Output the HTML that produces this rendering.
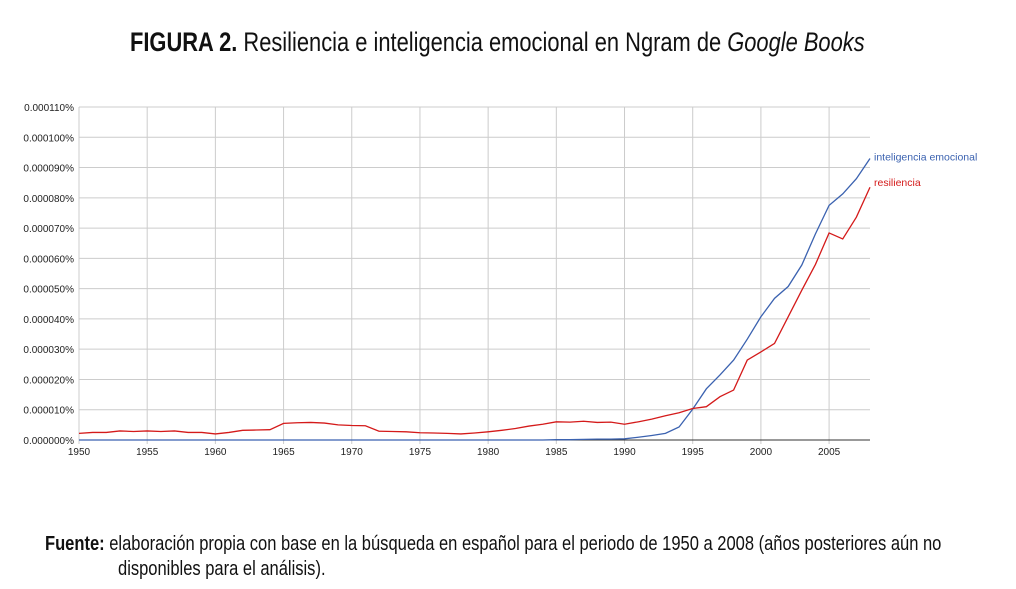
<!DOCTYPE html>
<html><head><meta charset="utf-8"><style>
body{margin:0;background:#fff;width:1016px;height:589px;overflow:hidden;position:relative;font-family:"Liberation Sans",sans-serif}
.t{position:absolute;white-space:nowrap}
#title{left:130px;top:27px;font-size:27px;color:#111;transform:scaleX(0.81);transform-origin:left top}
.foot{font-size:20px;color:#111;transform:scaleX(0.826);transform-origin:left top}
</style></head><body>
<div id="title" class="t"><b>FIGURA 2.</b> Resiliencia e inteligencia emocional en Ngram de <i>Google Books</i></div>
<svg id="chart" width="1016" height="589" style="position:absolute;left:0;top:0"></svg>
<div class="t foot" style="left:45px;top:533px"><b>Fuente:</b> elaboración propia con base en la búsqueda en español para el periodo de 1950 a 2008 (años posteriores aún no</div>
<div class="t foot" style="left:118px;top:558px">disponibles para el análisis).</div>
<script>
const years=[];for(let y=1950;y<=2008;y++)years.push(y);
const resiliencia=[2.2,2.5,2.5,3.0,2.8,3.0,2.8,3.0,2.5,2.5,2.0,2.5,3.2,3.3,3.4,5.5,5.7,5.8,5.6,5.0,4.8,4.7,2.9,2.8,2.7,2.4,2.3,2.2,2.0,2.3,2.7,3.2,3.8,4.6,5.2,6.0,5.9,6.2,5.8,5.9,5.2,6.0,6.9,8.0,9.0,10.4,11.0,14.3,16.5,26.4,29.1,31.9,40.7,49.5,58,68.4,66.4,73.6,83.5];
const inteligencia=[0,0,0,0,0,0,0,0,0,0,0,0,0,0,0,0,0,0,0,0,0,0,0,0,0,0,0,0,0,0,0,0,0,0,0,0.1,0.1,0.2,0.3,0.3,0.4,0.9,1.5,2.2,4.3,10.2,16.9,21.5,26.4,33.3,40.7,46.8,50.7,57.8,68.1,77.5,81.3,86.3,93];
const yTicks=[0,10,20,30,40,50,60,70,80,90,100,110];
const xTicks=[1950,1955,1960,1965,1970,1975,1980,1985,1990,1995,2000,2005];
const svg=document.getElementById('chart');const NS='http://www.w3.org/2000/svg';
const X=y=>79+(y-1950)*(870-79)/58;
const Y=v=>440-v*(440-107)/110;
function mk(t,a){const e=document.createElementNS(NS,t);for(const k in a)e.setAttribute(k,a[k]);svg.appendChild(e);return e;}
yTicks.forEach(v=>{const l=mk('line',{x1:79,x2:870,y1:Y(v),y2:Y(v),stroke:v?'#ccc':'#333','stroke-width':1});


const t=mk('text',{x:74,y:Y(v)+4,'text-anchor':'end','font-size':10,fill:'#222'});t.textContent=(v/1e6).toFixed(6)+'%';

});
xTicks.forEach(v=>{const l=mk('line',{x1:X(v),x2:X(v),y1:107,y2:444,stroke:'#ccc','stroke-width':1});


const t=mk('text',{x:X(v),y:455,'text-anchor':'middle','font-size':10,fill:'#222'});t.textContent=v;

});
mk('line',{x1:79,x2:870,y1:440,y2:440,stroke:'#333'});
function series(d,c,name,label,ly){const p=mk('polyline',{points:d.map((v,i)=>X(years[i])+','+Y(v)).join(' '),fill:'none',stroke:c,'stroke-width':1.3});


const t=mk('text',{x:874,y:ly,'font-size':10.5,fill:c});t.textContent=label;

}
series(inteligencia,'#3b62b0','inteligencia','inteligencia emocional',Y(inteligencia[58])+2);
series(resiliencia,'#d41a1a','resiliencia','resiliencia',Y(resiliencia[58])-1);
</script>
</body></html>
